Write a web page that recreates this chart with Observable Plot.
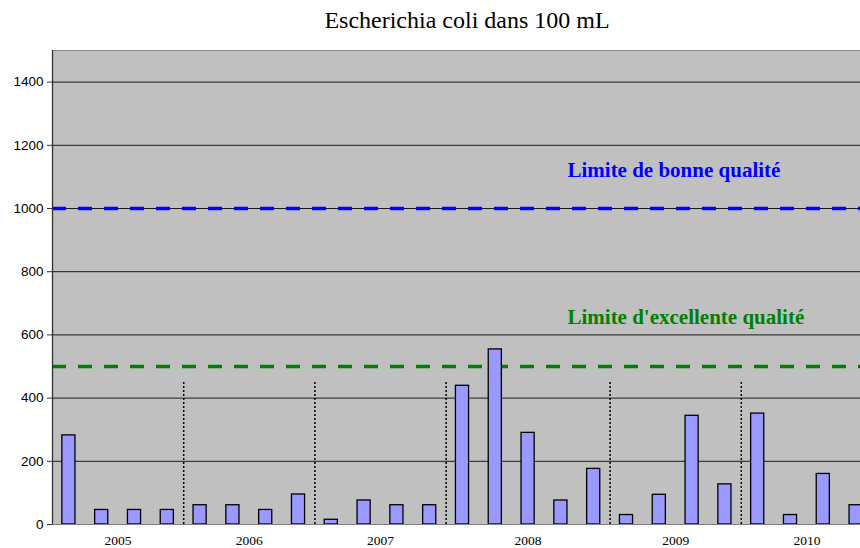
<!DOCTYPE html>
<html>
<head>
<meta charset="utf-8">
<script src="https://cdn.jsdelivr.net/npm/d3@7"></script>
<script src="https://cdn.jsdelivr.net/npm/@observablehq/plot@0.6"></script>
<style>
html, body { margin: 0; padding: 0; overflow: hidden; background: #fff; width: 860px; height: 548px; }
#wrap { position: relative; width: 860px; height: 548px; overflow: hidden; }
#title { position: absolute; top: 8px; left: 52px; width: 830px; text-align: center;
  font-family: "Liberation Serif", "Times New Roman", serif; font-size: 24px; line-height: 24px; color: #000; }
#chart { position: absolute; top: 0; left: 0; width: 872px; }
#chart svg { max-width: none !important; width: 872px; height: 548px; }
</style>
</head>
<body>
<div id="wrap">
  <div id="chart"></div>
  <div id="title">Escherichia coli dans 100 mL</div>
</div>
<script>
// Data
const years = ["2005", "2006", "2007", "2008", "2009", "2010"];
const barsPerYear = [4, 4, 4, 5, 4, 4];
const values = [282, 46, 46, 46, 61, 61, 46, 95, 15, 76, 61, 61, 439, 554, 290, 76, 176, 30, 94, 344, 127, 351, 30, 160, 61];
const yTicks = [0, 200, 400, 600, 800, 1000, 1200, 1400];
const limitGood = 1000;
const limitExcellent = 500;
const separatorTop = 450;
const annotations = [
  {label: "Limite de bonne qualité", x: 15.2, y: 1120, color: "#0000FF"},
  {label: "Limite d'excellente qualité", x: 15.2, y: 655, color: "#008000"}
];

// Derived tables
const rows = values.map((v, i) => ({i, v}));
const starts = [], ends = [];
let c = 0;
barsPerYear.forEach(n => { starts.push(c); ends.push(c + n - 1); c += n; });
const yearRows = years.map((y, k) => ({year: y, mid: (starts[k] + ends[k]) / 2}));
const sepRows = starts.slice(1).map(s => ({x: s - 0.5}));

const serif = "Liberation Serif, Times New Roman, serif";

const chart = Plot.plot({
  width: 872,
  height: 548,
  marginTop: 50,
  marginBottom: 24,
  marginLeft: 52,
  marginRight: 0,
  style: {background: "transparent", overflow: "visible", maxWidth: "none"},
  x: {domain: [-0.5, values.length - 0.5], axis: null},
  y: {domain: [0, 1500], axis: null},
  marks: [
    Plot.frame({fill: "#C0C0C0", stroke: null}),
    Plot.gridY(yTicks.filter(t => t > 0), {stroke: "#1a1a1a", strokeOpacity: 1, strokeWidth: 1}),
    Plot.ruleY([1500], {stroke: "#8a8a8a", strokeWidth: 1}),
    Plot.ruleX(sepRows, {x: "x", y1: 0, y2: separatorTop, stroke: "#000", strokeWidth: 1.5, strokeDasharray: "2,2"}),
    Plot.ruleY([limitGood], {stroke: "#0000FF", strokeWidth: 3.5, strokeDasharray: "14,12"}),
    Plot.ruleY([limitExcellent], {stroke: "#008000", strokeWidth: 3.5, strokeDasharray: "14,12"}),
    Plot.rectY(rows, {x1: d => d.i - 0.2, x2: d => d.i + 0.2, y1: 0, y2: "v", fill: "#9999FF", stroke: "#000", strokeWidth: 1.3}),
    Plot.ruleY([0], {stroke: "#808080", strokeWidth: 1.2}),
    Plot.ruleX([-0.5], {stroke: "#333", strokeWidth: 1.3}),
    Plot.axisY(yTicks, {tickSize: 5, tickPadding: 4, tickFormat: d => String(d), fontSize: 13.5, fontFamily: "Liberation Sans, Arial, sans-serif", stroke: "#333", fill: "#000"}),
    Plot.text(yearRows, {x: "mid", y: 0, text: "year", dy: 16.5, fontSize: 13.5, fontFamily: serif, fill: "#000"}),
    Plot.text(annotations, {x: "x", y: "y", text: "label", fill: "color", textAnchor: "start", fontSize: 21, fontWeight: "bold", fontFamily: serif})
  ]
});
document.getElementById("chart").appendChild(chart);
</script>
</body>
</html>
